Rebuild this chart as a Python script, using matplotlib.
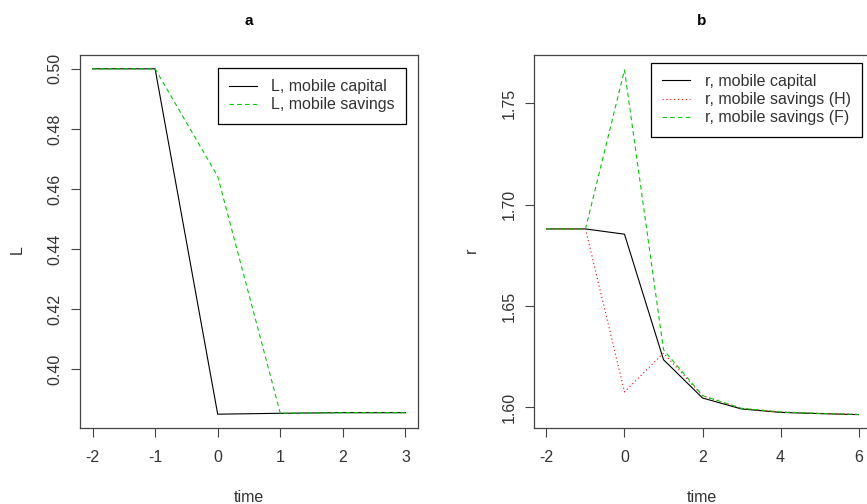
import matplotlib
matplotlib.use("Agg")
import matplotlib.pyplot as plt

plt.rcParams["font.family"] = ["Liberation Sans", "DejaVu Sans"]
plt.rcParams["axes.unicode_minus"] = False

# panel a
time_a = [-2, -1, 0, 1, 2, 3]
L_capital = [0.5, 0.5, 0.3850, 0.3853, 0.3855, 0.3855]
L_savings = [0.5, 0.5, 0.4642, 0.3853, 0.3855, 0.3855]

# panel b
time_b = [-2, -1, 0, 1, 2, 3, 4, 5, 6]
r_capital = [1.688, 1.688, 1.6854, 1.6235, 1.6046, 1.5992, 1.5975, 1.5969, 1.5964]
r_savings_h = [1.688, 1.688, 1.6076, 1.6268, 1.6057, 1.5995, 1.5977, 1.5970, 1.5965]
r_savings_f = [1.688, 1.688, 1.7664, 1.6284, 1.6058, 1.5995, 1.5977, 1.5970, 1.5965]

GREEN = "#00CD00"
TXT = "#333333"
FS = 11.5

fig = plt.figure(figsize=(8.67, 5.04), dpi=100)
ax1 = fig.add_axes([80 / 867, 76 / 504, 338 / 867, 373 / 504])
ax2 = fig.add_axes([534 / 867, 76 / 504, 337 / 867, 373 / 504])


def style(ax):
    for s in ax.spines.values():
        s.set_color("#444444")
        s.set_linewidth(0.9)
    ax.tick_params(direction="out", length=6.5, width=0.8, color="#444444",
                   labelsize=FS, labelcolor=TXT)
    ax.tick_params(axis="x", pad=9)
    ax.tick_params(axis="y", pad=6)
    for lab in ax.get_yticklabels():
        lab.set_rotation(90)
        lab.set_va("center")


def add_legend(ax, anchor):
    leg = ax.legend(loc="upper right", bbox_to_anchor=anchor, fontsize=FS,
                    fancybox=False, edgecolor="black", framealpha=1,
                    handlelength=1.75, handletextpad=0.9, labelspacing=0.2,
                    borderpad=0.7, borderaxespad=0, labelcolor=TXT)
    leg.get_frame().set_linewidth(0.9)


ax1.plot(time_a, L_capital, color="black", lw=0.8, label="L, mobile capital")
ax1.plot(time_a, L_savings, color=GREEN, lw=0.8, dashes=(4, 3),
         label="L, mobile savings")
ax1.set_xlim(-2.2, 3.2)
ax1.set_ylim(0.3804, 0.5046)
ax1.set_xticks([-2, -1, 0, 1, 2, 3])
ax1.set_yticks([0.40, 0.42, 0.44, 0.46, 0.48, 0.50])
ax1.set_yticklabels(["0.40", "0.42", "0.44", "0.46", "0.48", "0.50"])
style(ax1)
add_legend(ax1, (0.965, 0.965))

ax2.plot(time_b, r_capital, color="black", lw=0.8, label="r, mobile capital")
ax2.plot(time_b, r_savings_h, color="red", lw=0.8, dashes=(1, 2.5),
         label="r, mobile savings (H)")
ax2.plot(time_b, r_savings_f, color=GREEN, lw=0.8, dashes=(4, 3),
         label="r, mobile savings (F)")
ax2.set_xlim(-2.32, 6.32)
ax2.set_ylim(1.5898, 1.7738)
ax2.set_xticks([-2, 0, 2, 4, 6])
ax2.set_yticks([1.60, 1.65, 1.70, 1.75])
ax2.set_yticklabels(["1.60", "1.65", "1.70", "1.75"])
style(ax2)
add_legend(ax2, (0.973, 0.979))

# axis labels and panel letters
for cx, letter, ylab, lx in [(249, "a", "L", 17.5), (702, "b", "r", 471)]:
    fig.text(cx / 867, 1 - 25 / 504, letter, ha="center", va="baseline",
             fontsize=11, fontweight="bold")
    fig.text(cx / 867, 2 / 504, "time", ha="center", va="baseline",
             fontsize=FS, color=TXT)
    fig.text(lx / 867, 1 - 250 / 504, ylab, ha="center", va="center",
             rotation=90, fontsize=FS, color=TXT)

fig.savefig("out.png", dpi=100)
